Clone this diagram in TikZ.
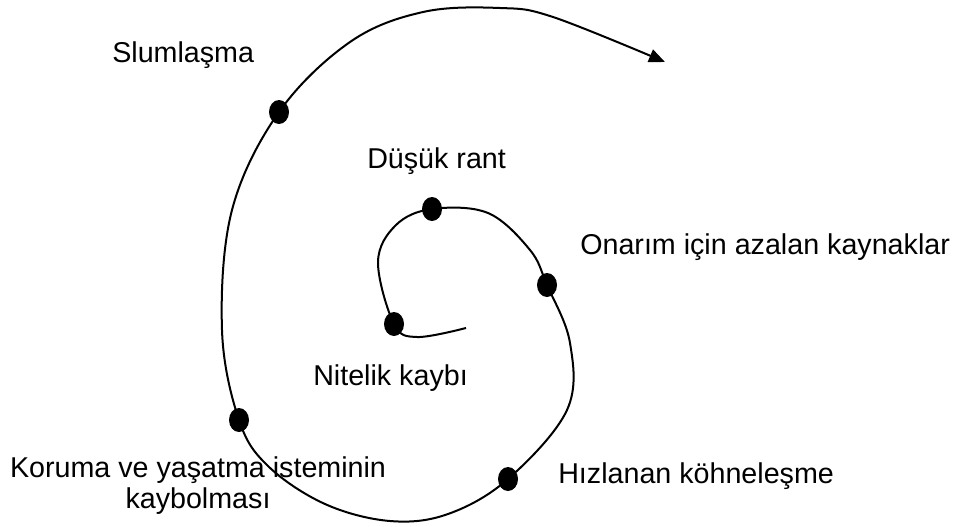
\documentclass[tikz,border=0pt]{standalone}
\usepackage{fontspec}
\setmainfont{Liberation Sans}
\usetikzlibrary{shapes.geometric,arrows.meta}
\begin{document}
\begin{tikzpicture}[x=0.75pt,y=-0.75pt,
  dot/.style={ellipse,fill=black,draw=none,minimum width=15pt,minimum height=18pt,inner sep=0pt},
  lbl/.style={inner sep=0pt,font=\fontsize{21.5}{23.3}\selectfont,text=black},
  spiral/.style={line width=1.5pt,draw=black}]
\useasboundingbox (0,0) rectangle (966,526);
% dots
\node[dot] (d1) at (394,324) {};
\node[dot] (d2) at (432,209) {};
\node[dot] (d3) at (547,285) {};
\node[dot] (d4) at (508,479) {};
\node[dot] (d5) at (239,420) {};
\node[dot] (d6) at (279,112) {};
\coordinate (start) at (466,328);
\coordinate (tip) at (665,62);
% spiral curve
\draw[spiral,-{Triangle[length=12pt,width=10pt]}] plot[smooth,tension=0.6] coordinates {
  (start) (417,337) (d1.center) (378,262) (396,225)
  (d2.center) (488,213) (530,250) (d3.center) (570,343)
  (567,410) (d4.center) (448,514) (390,521) (325,504)
  (268,466) (d5.center) (222,330) (232,210)
  (d6.center) (350,42) (423,12) (500,8) (553,17)
  (tip)};
% labels
\node[lbl,anchor=base west] (t1) at (112,62) {Slumlaşma};
\node[lbl,anchor=base west] (t2) at (367,168) {Düşük rant};
\node[lbl,anchor=base west] (t3) at (580,254) {Onarım için azalan kaynaklar};
\node[lbl,anchor=base west] (t4) at (313,385) {Nitelik kaybı};
\node[lbl,anchor=base west] (t5) at (558,483) {Hızlanan köhneleşme};
\node[lbl,anchor=north,align=center] (t6) at (198,456.5) {Koruma ve yaşatma isteminin\\kaybolması};
\end{tikzpicture}
\end{document}
